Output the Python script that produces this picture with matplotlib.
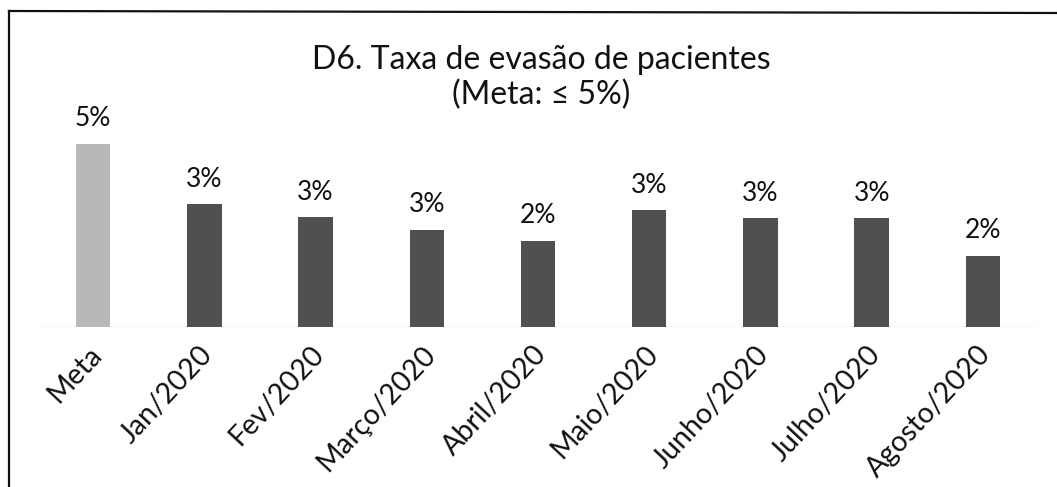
import matplotlib
matplotlib.use("Agg")
import matplotlib.pyplot as plt
from matplotlib.lines import Line2D
import matplotlib.transforms as mtransforms

categories = ["Meta", "Jan/2020", "Fev/2020", "Março/2020", "Abril/2020",
              "Maio/2020", "Junho/2020", "Julho/2020", "Agosto/2020"]
values = [5.0, 3.35, 3.0, 2.66, 2.36, 3.19, 2.97, 2.97, 1.95]
colors = ["#b8b8b8"] + ["#505050"] * 8
title_line1 = "D6. Taxa de evasão de pacientes"
title_line2 = "(Meta: ≤ 5%)"

plt.rcParams['font.family'] = ['Lato', 'DejaVu Sans']

W, H = 1057, 487
fig = plt.figure(figsize=(W / 100, H / 100), dpi=100)
fig.patch.set_facecolor("white")

left = 37.5 / W
width = (1038.5 - 37.5) / W
bottom = (H - 327) / H
px_per_unit = (327 - 144) / 5.0
ymax = 5.5
height = ymax * px_per_unit / H
ax = fig.add_axes([left, bottom, width, height])

x = list(range(len(categories)))
bars = ax.bar(x, values, width=0.31, color=colors, edgecolor="none", zorder=2)
ax.set_xlim(-0.5, len(categories) - 0.5)
ax.set_ylim(0, ymax)

for rect, v in zip(bars, values):
    ax.annotate(f"{round(v):.0f}%",
                xy=(rect.get_x() + rect.get_width() / 2, v),
                xytext=(0, 9), textcoords="offset points",
                ha="center", va="bottom", fontsize=19, color="#111111")

ax.axhline(0, color="#c8c8c8", lw=1.0, ls=(0, (2, 1.5)), zorder=1)

for s in ax.spines.values():
    s.set_visible(False)
ax.set_yticks([])
ax.set_xticks(x)
ax.set_xticklabels([])
ax.tick_params(axis="x", length=0)

offset = mtransforms.ScaledTranslation(4 / 100, -23 / 100, fig.dpi_scale_trans)
trans = mtransforms.blended_transform_factory(ax.transData, ax.transAxes) + offset
for xi, lab in zip(x, categories):
    ax.text(xi, 0, lab, transform=trans, rotation=47, rotation_mode="anchor",
            ha="right", va="center", fontsize=20.5, color="#111111")

fig.text(541 / W, 1 - 60 / H, title_line1, ha="center", va="center",
         fontsize=23, color="#111111")
fig.text(541 / W, 1 - 95 / H, title_line2, ha="center", va="center",
         fontsize=23, color="#111111")

fig.add_artist(Line2D([9 / W, 9 / W], [0, 1 - 11 / H], transform=fig.transFigure,
                      color="#111111", lw=1.6))
fig.add_artist(Line2D([9 / W, 1], [1 - 11 / H, 1 - 13 / H], transform=fig.transFigure,
                      color="#111111", lw=1.6))

fig.savefig("out.png", dpi=100, facecolor="white")
